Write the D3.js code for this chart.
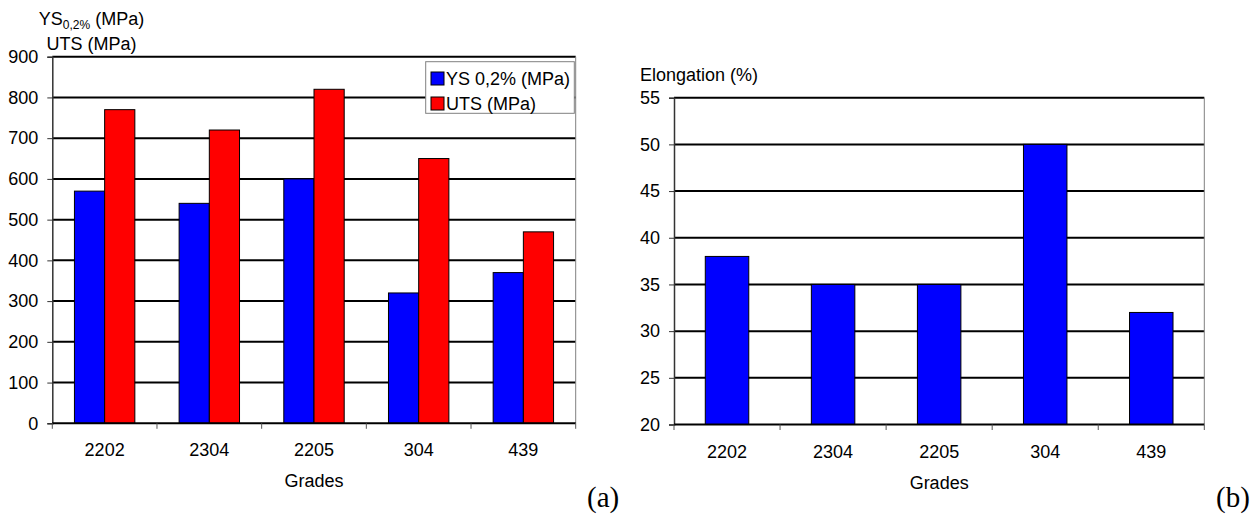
<!DOCTYPE html>
<html>
<head>
<meta charset="utf-8">
<script src="https://cdn.jsdelivr.net/npm/d3@7"></script>
<style>
  html, body { margin: 0; padding: 0; background: #fff; }
  svg { display: block; }
  text { font-family: "Liberation Sans", Arial, sans-serif; fill: #000; }
  .panel-tag { font-family: "Liberation Serif", "Times New Roman", serif; }
</style>
</head>
<body>
<svg id="chart" width="1258" height="517"></svg>
<script>
// Mechanical properties per steel grade
const grades = ["2202", "2304", "2205", "304", "439"];
const ysValues = [570, 540, 600, 320, 370];      // YS 0,2% (MPa)
const utsValues = [770, 720, 820, 650, 470];     // UTS (MPa)
const elongValues = [38, 35, 35, 50, 32];        // Elongation (%)
const strengthTicks = [0, 100, 200, 300, 400, 500, 600, 700, 800, 900];
const elongTicks = [20, 25, 30, 35, 40, 45, 50, 55];
const seriesNames = ["YS 0,2% (MPa)", "UTS (MPa)"];
const seriesColors = ["#0000FF", "#FF0000"];

const svg = d3.select("#chart");
const FONT = 18;

function drawFrame(g, x, y, ticks, left, right) {
  // horizontal grid lines
  g.append("g").selectAll("line")
    .data(ticks.slice(1))
    .join("line")
    .attr("x1", left).attr("x2", right)
    .attr("y1", d => y(d)).attr("y2", d => y(d))
    .attr("stroke", "#000").attr("stroke-width", 2);
  // right border of plot area
  g.append("line")
    .attr("x1", right).attr("x2", right)
    .attr("y1", y(ticks[ticks.length - 1])).attr("y2", y(ticks[0]))
    .attr("stroke", "#808080").attr("stroke-width", 1);
}

function drawAxes(g, x, y, ticks, left, right) {
  const bottom = y(ticks[0]);
  // y axis
  const ya = g.append("g").attr("transform", `translate(${left},0)`)
    .call(d3.axisLeft(y).tickValues(ticks).tickSize(5).tickPadding(9).tickFormat(d3.format("d")));
  ya.select(".domain").attr("stroke", "#333").attr("stroke-width", 1.5);
  ya.selectAll(".tick line").attr("stroke", "#333");
  ya.selectAll("text").attr("font-size", FONT).attr("fill", "#000")
    .attr("font-family", "Liberation Sans, Arial, sans-serif");
  // x axis: ticks at category boundaries
  const step = x.step();
  const r0 = x.range()[0];
  const bounds = d3.range(grades.length + 1).map(i => r0 + i * step);
  g.append("line")
    .attr("x1", left).attr("x2", right)
    .attr("y1", bottom).attr("y2", bottom)
    .attr("stroke", "#000").attr("stroke-width", 2);
  g.append("g").selectAll("line")
    .data(bounds)
    .join("line")
    .attr("x1", d => d).attr("x2", d => d)
    .attr("y1", bottom).attr("y2", bottom + 5.5)
    .attr("stroke", "#555").attr("stroke-width", 1);
  g.append("g").selectAll("text")
    .data(grades)
    .join("text")
    .attr("x", d => x(d) + x.bandwidth() / 2)
    .attr("y", bottom + 33)
    .attr("text-anchor", "middle")
    .attr("font-size", FONT)
    .text(d => d);
  g.append("text")
    .attr("x", (left + right) / 2)
    .attr("y", bottom + 64)
    .attr("text-anchor", "middle")
    .attr("font-size", FONT)
    .text("Grades");
}

// ---------- (a) strength chart ----------
{
  const left = 52.3, right = 575.7;
  const g = svg.append("g");
  const y = d3.scaleLinear().domain([0, 900]).range([423.3, 56.7]);
  const x = d3.scaleBand().domain(grades).range([left, right])
    .paddingInner(0.423).paddingOuter(0.2115);
  const xs = d3.scaleBand().domain(seriesNames).range([0, x.bandwidth()]);

  drawFrame(g, x, y, strengthTicks, left, right);

  const rows = grades.map((c, i) => ({ c, vals: [ysValues[i], utsValues[i]] }));
  g.append("g").selectAll("g")
    .data(rows)
    .join("g")
    .attr("transform", d => `translate(${x(d.c)},0)`)
    .selectAll("rect")
    .data(d => d.vals.map((v, k) => ({ v, k })))
    .join("rect")
    .attr("x", d => xs(seriesNames[d.k]))
    .attr("width", xs.bandwidth())
    .attr("y", d => y(d.v))
    .attr("height", d => y(0) - y(d.v))
    .attr("fill", d => seriesColors[d.k])
    .attr("stroke", "#000").attr("stroke-width", 1);

  drawAxes(g, x, y, strengthTicks, left, right);

  // y axis title (two lines)
  const t1 = g.append("text").attr("x", 91.5).attr("y", 25)
    .attr("text-anchor", "middle").attr("font-size", FONT);
  t1.append("tspan").text("YS");
  t1.append("tspan").attr("font-size", 12).attr("dy", 4).text("0,2%");
  t1.append("tspan").attr("dy", -4).text(" (MPa)");
  g.append("text").attr("x", 91.5).attr("y", 50)
    .attr("text-anchor", "middle").attr("font-size", FONT).text("UTS (MPa)");

  // legend
  const lg = g.append("g");
  lg.append("rect").attr("x", 425.7).attr("y", 61.7).attr("width", 148.6).attr("height", 51.6)
    .attr("fill", "#fff").attr("stroke", "#808080").attr("stroke-width", 1);
  seriesNames.forEach((name, k) => {
    lg.append("rect").attr("x", 431).attr("y", 72 + k * 25).attr("width", 13).attr("height", 13)
      .attr("fill", seriesColors[k]).attr("stroke", "#000").attr("stroke-width", 1);
    lg.append("text").attr("x", 446).attr("y", 85 + k * 25)
      .attr("font-size", FONT).text(name);
  });

  g.append("text").attr("class", "panel-tag").attr("x", 587).attr("y", 507)
    .attr("font-size", 29).text("(a)");
}

// ---------- (b) elongation chart ----------
{
  const left = 674, right = 1204.3;
  const g = svg.append("g");
  const y = d3.scaleLinear().domain([20, 55]).range([424.5, 97.7]);
  const x = d3.scaleBand().domain(grades).range([left, right])
    .paddingInner(0.59).paddingOuter(0.295);

  drawFrame(g, x, y, elongTicks, left, right);

  g.append("g").selectAll("rect")
    .data(grades.map((c, i) => ({ c, v: elongValues[i] })))
    .join("rect")
    .attr("x", d => x(d.c))
    .attr("width", x.bandwidth())
    .attr("y", d => y(d.v))
    .attr("height", d => y(20) - y(d.v))
    .attr("fill", "#0000FF")
    .attr("stroke", "#000").attr("stroke-width", 1);

  drawAxes(g, x, y, elongTicks, left, right);

  g.append("text").attr("x", 640).attr("y", 80.5)
    .attr("font-size", FONT).text("Elongation (%)");

  g.append("text").attr("class", "panel-tag").attr("x", 1216).attr("y", 507)
    .attr("font-size", 29).text("(b)");
}
</script>
</body>
</html>
